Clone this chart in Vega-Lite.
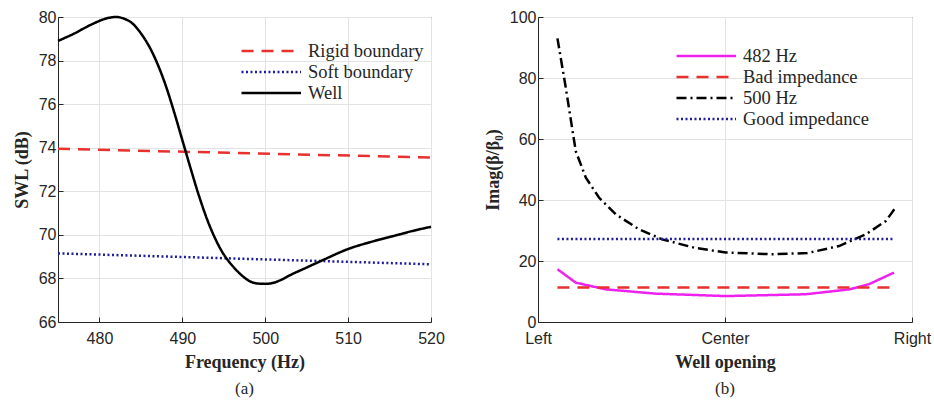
{
  "$schema": "https://vega.github.io/schema/vega-lite/v6.json",
  "padding": {"left": 12, "top": 8, "right": 5, "bottom": 4},
  "background": "white",
  "spacing": 38,
  "resolve": {"scale": {"color": "independent", "strokeDash": "independent"}, "legend": {"color": "independent", "strokeDash": "independent"}},
  "config": {
    "view": {"stroke": "#262626", "strokeWidth": 1},
    "axis": {
      "labelFont": "Liberation Sans",
      "labelFontSize": 16,
      "labelColor": "#262626",
      "labelFlush": false,
      "titleFont": "Liberation Serif",
      "titleFontSize": 18,
      "titleFontWeight": "bold",
      "titleColor": "#262626",
      "gridColor": "#e3e3e3",
      "gridWidth": 1,
      "domainColor": "#262626",
      "tickColor": "#262626",
      "tickSize": -5,
      "labelPadding": 7,
      "titlePadding": 7
    },
    "axisX": {"labelPadding": 13},
    "legend": {
      "symbolType": "M-1,0H6",
      "symbolSize": 289,
      "symbolStrokeWidth": 2.5,
      "symbolFillColor": "transparent",
      "labelFont": "Liberation Serif",
      "labelFontSize": 18.5,
      "labelColor": "#262626",
      "labelOffset": 48,
      "rowPadding": 1,
      "orient": "none",
      "title": null
    },
    "title": {"font": "Liberation Serif", "fontSize": 17, "fontWeight": "normal", "color": "#262626"}
  },
  "hconcat": [
    {
      "width": 373,
      "height": 305,
      "title": {"text": "(a)", "orient": "bottom", "offset": 10},
      "data": {"values": [
        {"f": 475, "v": 73.95, "s": "Rigid boundary"},
        {"f": 520, "v": 73.55, "s": "Rigid boundary"},
        {"f": 475, "v": 69.15, "s": "Soft boundary"},
        {"f": 520, "v": 68.65, "s": "Soft boundary"},
        {"f": 475, "v": 78.9, "s": "Well"},
        {"f": 477, "v": 79.25, "s": "Well"},
        {"f": 479, "v": 79.65, "s": "Well"},
        {"f": 481, "v": 79.95, "s": "Well"},
        {"f": 482, "v": 80.0, "s": "Well"},
        {"f": 483, "v": 79.92, "s": "Well"},
        {"f": 484, "v": 79.7, "s": "Well"},
        {"f": 485, "v": 79.25, "s": "Well"},
        {"f": 486, "v": 78.65, "s": "Well"},
        {"f": 487, "v": 77.85, "s": "Well"},
        {"f": 488, "v": 76.85, "s": "Well"},
        {"f": 489, "v": 75.65, "s": "Well"},
        {"f": 490, "v": 74.35, "s": "Well"},
        {"f": 491, "v": 73.05, "s": "Well"},
        {"f": 492, "v": 71.8, "s": "Well"},
        {"f": 493, "v": 70.7, "s": "Well"},
        {"f": 494, "v": 69.8, "s": "Well"},
        {"f": 495, "v": 69.1, "s": "Well"},
        {"f": 496, "v": 68.6, "s": "Well"},
        {"f": 497, "v": 68.2, "s": "Well"},
        {"f": 498, "v": 67.9, "s": "Well"},
        {"f": 499, "v": 67.77, "s": "Well"},
        {"f": 500, "v": 67.75, "s": "Well"},
        {"f": 501, "v": 67.8, "s": "Well"},
        {"f": 502, "v": 67.95, "s": "Well"},
        {"f": 503, "v": 68.15, "s": "Well"},
        {"f": 505, "v": 68.5, "s": "Well"},
        {"f": 507, "v": 68.85, "s": "Well"},
        {"f": 510, "v": 69.35, "s": "Well"},
        {"f": 513, "v": 69.7, "s": "Well"},
        {"f": 516, "v": 70.0, "s": "Well"},
        {"f": 518, "v": 70.2, "s": "Well"},
        {"f": 520, "v": 70.37, "s": "Well"}
      ]},
      "mark": {"type": "line", "strokeWidth": 2.5, "interpolate": "monotone"},
      "encoding": {
        "x": {"field": "f", "type": "quantitative", "title": "Frequency (Hz)",
              "scale": {"domain": [475, 520], "nice": false, "zero": false},
              "axis": {"values": [480, 490, 500, 510, 520], "grid": true}},
        "y": {"field": "v", "type": "quantitative", "title": "SWL (dB)",
              "scale": {"domain": [66, 80], "nice": false, "zero": false},
              "axis": {"values": [66, 68, 70, 72, 74, 76, 78, 80], "grid": true}},
        "color": {"field": "s", "type": "nominal",
                  "scale": {"domain": ["Rigid boundary", "Soft boundary", "Well"], "range": ["#e8302f", "#1c1c9c", "#000000"]},
                  "legend": {"legendX": 182, "legendY": 24}},
        "strokeDash": {"field": "s", "type": "nominal",
                  "scale": {"domain": ["Rigid boundary", "Soft boundary", "Well"], "range": [[12, 8], [2, 2.5], [1, 0]]},
                  "legend": {"legendX": 182, "legendY": 24}}
      }
    },
    {
      "width": 374,
      "height": 305,
      "title": {"text": "(b)", "orient": "bottom", "offset": 10},
      "data": {"values": [
        {"p": 0.052, "v": 17.3, "s": "482 Hz"},
        {"p": 0.101, "v": 12.9, "s": "482 Hz"},
        {"p": 0.181, "v": 10.7, "s": "482 Hz"},
        {"p": 0.315, "v": 9.3, "s": "482 Hz"},
        {"p": 0.502, "v": 8.5, "s": "482 Hz"},
        {"p": 0.716, "v": 9.1, "s": "482 Hz"},
        {"p": 0.832, "v": 10.7, "s": "482 Hz"},
        {"p": 0.885, "v": 12.4, "s": "482 Hz"},
        {"p": 0.952, "v": 16.2, "s": "482 Hz"},
        {"p": 0.052, "v": 11.3, "s": "Bad impedance"},
        {"p": 0.952, "v": 11.3, "s": "Bad impedance"},
        {"p": 0.052, "v": 93, "s": "500 Hz"},
        {"p": 0.074, "v": 77, "s": "500 Hz"},
        {"p": 0.092, "v": 63, "s": "500 Hz"},
        {"p": 0.101, "v": 56, "s": "500 Hz"},
        {"p": 0.128, "v": 47.3, "s": "500 Hz"},
        {"p": 0.163, "v": 40.8, "s": "500 Hz"},
        {"p": 0.208, "v": 35.3, "s": "500 Hz"},
        {"p": 0.27, "v": 30.4, "s": "500 Hz"},
        {"p": 0.332, "v": 27.1, "s": "500 Hz"},
        {"p": 0.42, "v": 24.3, "s": "500 Hz"},
        {"p": 0.502, "v": 22.8, "s": "500 Hz"},
        {"p": 0.626, "v": 22.2, "s": "500 Hz"},
        {"p": 0.72, "v": 22.6, "s": "500 Hz"},
        {"p": 0.805, "v": 24.9, "s": "500 Hz"},
        {"p": 0.876, "v": 28.7, "s": "500 Hz"},
        {"p": 0.93, "v": 33.1, "s": "500 Hz"},
        {"p": 0.953, "v": 37, "s": "500 Hz"},
        {"p": 0.052, "v": 27.2, "s": "Good impedance"},
        {"p": 0.952, "v": 27.2, "s": "Good impedance"}
      ]},
      "mark": {"type": "line", "strokeWidth": 2.5},
      "encoding": {
        "x": {"field": "p", "type": "quantitative", "title": "Well opening",
              "scale": {"domain": [0, 1], "nice": false},
              "axis": {"values": [0, 0.5, 1], "grid": true,
                       "labelExpr": "datum.value == 0 ? 'Left' : datum.value == 1 ? 'Right' : 'Center'"}},
        "y": {"field": "v", "type": "quantitative", "title": "Imag(β/β₀)",
              "scale": {"domain": [0, 100], "nice": false},
              "axis": {"values": [0, 20, 40, 60, 80, 100], "grid": true}},
        "color": {"field": "s", "type": "nominal",
                  "scale": {"domain": ["482 Hz", "Bad impedance", "500 Hz", "Good impedance"], "range": ["#ee22ee", "#e8302f", "#000000", "#1c1c9c"]},
                  "legend": {"legendX": 137, "legendY": 29}},
        "strokeDash": {"field": "s", "type": "nominal",
                  "scale": {"domain": ["482 Hz", "Bad impedance", "500 Hz", "Good impedance"], "range": [[1, 0], [12, 8], [10, 4, 2, 4], [2, 2.5]]},
                  "legend": {"legendX": 137, "legendY": 29}}
      }
    }
  ]
}
